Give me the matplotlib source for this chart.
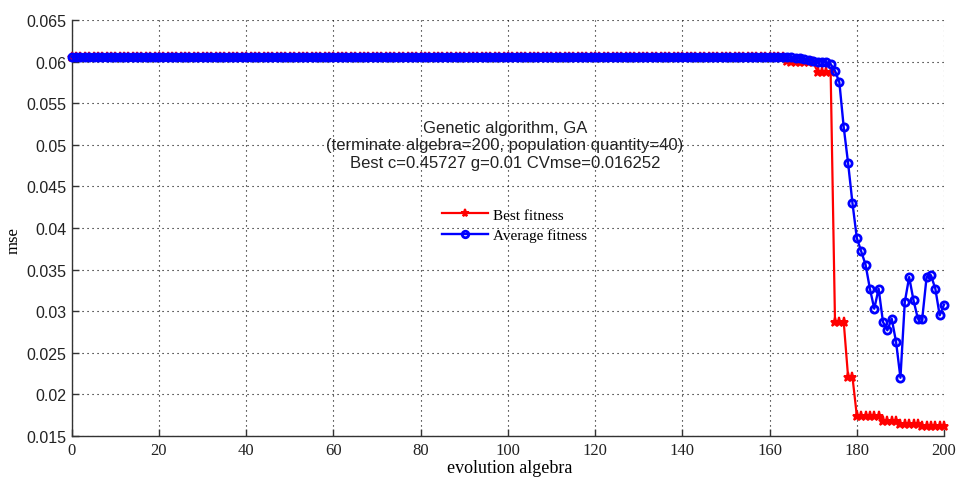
import matplotlib
matplotlib.use("Agg")
import matplotlib.pyplot as plt
import numpy as np

# ---- data ----
generations = list(range(0, 201))
flat_value = 0.06055
best_tail = [0.0601, 0.0600, 0.0599, 0.0599, 0.0599, 0.0599, 0.0599,   # 164-170
             0.0588, 0.0588, 0.0588, 0.0588,                           # 171-174
             0.0287, 0.0287, 0.0287,                                   # 175-177
             0.0221, 0.0221,                                           # 178-179
             0.01745, 0.01745, 0.01745, 0.01745, 0.01745, 0.01745,     # 180-185
             0.01685, 0.01685, 0.01685, 0.01685,                       # 186-189
             0.0165, 0.0165, 0.0165, 0.0165, 0.0165,                   # 190-194
             0.01625, 0.01625, 0.01625, 0.01625, 0.01625, 0.01625]     # 195-200
avg_tail = [0.0605, 0.0605, 0.0604, 0.0604, 0.0603, 0.0602, 0.0601,    # 164-170
            0.0600, 0.0600, 0.0599, 0.0597,                            # 171-174
            0.0589, 0.0575, 0.0521, 0.0478, 0.0430,                    # 175-179
            0.0388, 0.0372, 0.0356, 0.0327, 0.0303, 0.0327,            # 180-185
            0.0287, 0.0277, 0.0291, 0.0263, 0.0220,                    # 186-190
            0.0311, 0.0341, 0.0313, 0.0291, 0.0291,                    # 191-195
            0.0341, 0.0343, 0.0327, 0.0295, 0.0308]                    # 196-200
best_fitness = [flat_value] * 164 + best_tail
avg_fitness = [flat_value] * 164 + avg_tail

x_ticks = [0, 20, 40, 60, 80, 100, 120, 140, 160, 180, 200]
y_ticks = [0.015, 0.02, 0.025, 0.03, 0.035, 0.04, 0.045, 0.05, 0.055, 0.06, 0.065]
y_tick_labels = ["0.015", "0.02", "0.025", "0.03", "0.035", "0.04",
                 "0.045", "0.05", "0.055", "0.06", "0.065"]
title_lines = ["Genetic algorithm, GA",
               "(terminate algebra=200, population quantity=40)",
               "Best c=0.45727 g=0.01 CVmse=0.016252"]

# ---- figure ----
fig = plt.figure(figsize=(9.56, 4.81), dpi=100)
ax = fig.add_axes([0.075, 0.0915, 0.9125, 0.8649])

ax.plot(generations, best_fitness, color="#ff0000", linewidth=1.6,
        marker="*", markersize=6.5, markeredgewidth=1.4,
        label="Best fitness", clip_on=False, zorder=3)
ax.plot(generations, avg_fitness, color="#0000ff", linewidth=1.7,
        marker="o", markersize=5.2, markerfacecolor="none",
        markeredgewidth=2.0, label="Average fitness",
        clip_on=False, zorder=4)

ax.set_xlim(0, 200)
ax.set_ylim(0.015, 0.065)
ax.set_xticks(x_ticks)
ax.set_yticks(y_ticks)
ax.set_yticklabels(y_tick_labels)

for s in ["top", "right"]:
    ax.spines[s].set_visible(False)
for s in ["left", "bottom"]:
    ax.spines[s].set_color("#333333")
    ax.spines[s].set_linewidth(1.0)

ax.tick_params(direction="in", length=5, width=1.0, color="#333333", pad=4)
for lab in ax.get_xticklabels():
    lab.set_fontfamily(["Liberation Serif", "DejaVu Serif"])
    lab.set_fontsize(12)
    lab.set_color("#222222")
for lab in ax.get_yticklabels():
    lab.set_fontfamily(["Liberation Sans Narrow", "Liberation Sans", "DejaVu Sans"])
    lab.set_fontsize(11.5)
    lab.set_color("#222222")

ax.grid(True, linestyle=(0, (1, 3.5)), color="black", linewidth=0.8)
ax.set_axisbelow(True)

ax.set_xlabel("evolution algebra", fontfamily=["Liberation Serif", "DejaVu Serif"],
              fontsize=13)
ax.xaxis.set_label_coords(0.5025, -0.056)
ax.set_ylabel("mse", fontfamily=["Liberation Serif", "DejaVu Serif"],
              fontsize=12)
ax.yaxis.set_label_coords(-0.057, 0.471)

ax.text(99.3, 0.0500, "\n".join(title_lines), ha="center", va="center",
        multialignment="center", fontsize=12,
        fontfamily=["Liberation Sans", "DejaVu Sans"], color="#222222",
        linespacing=1.2, zorder=5)

leg = ax.legend(loc="center", bbox_to_anchor=(0.538, 0.530),
                bbox_transform=fig.transFigure, frameon=False,
                prop={"family": ["Liberation Serif", "DejaVu Serif"], "size": 11},
                handlelength=3.0, handletextpad=0.35, labelspacing=0.45,
                borderpad=0, markerscale=0.9)

fig.savefig("out.png", dpi=100)
